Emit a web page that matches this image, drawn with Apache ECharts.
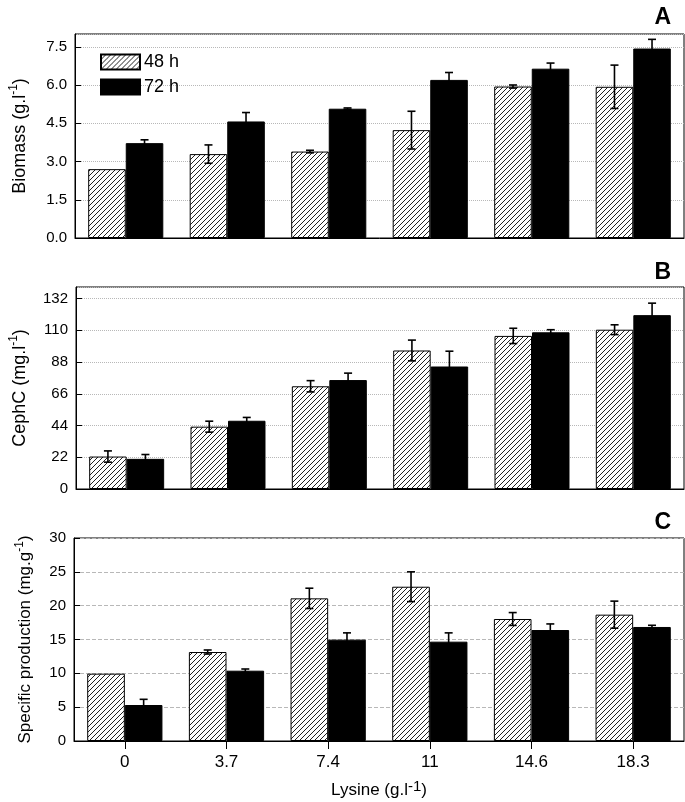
<!DOCTYPE html>
<html>
<head>
<meta charset="utf-8">
<script src="https://cdn.jsdelivr.net/npm/echarts@6/dist/echarts.min.js"></script>
<style>
html,body{margin:0;padding:0;background:#fff;}
#chart{width:685px;height:802px;}
</style>
</head>
<body>
<div id="chart"></div>
<script>
// ---- data ----
const categories = ['0', '3.7', '7.4', '11', '14.6', '18.3'];
const seriesNames = ['48 h', '72 h'];

const biomass48 = [2.70, 3.29, 3.39, 4.23, 5.94, 5.93];
const biomass48Err = [0, 0.36, 0.05, 0.74, 0.06, 0.85];
const biomass72 = [3.72, 4.57, 5.07, 6.20, 6.64, 7.43];
const biomass72Err = [0.13, 0.35, 0.03, 0.29, 0.22, 0.36];

const cephc48 = [22.5, 43.2, 71.2, 96.0, 106.1, 110.4];
const cephc48Err = [3.9, 3.8, 3.9, 7.2, 5.3, 3.4];
const cephc72 = [20.9, 47.3, 75.5, 84.9, 108.6, 120.5];
const cephc72Err = [3.0, 2.3, 4.8, 10.6, 1.8, 8.3];

const spec48 = [9.95, 13.15, 21.08, 22.8, 18.03, 18.67];
const spec48Err = [0, 0.3, 1.5, 2.2, 0.95, 2.0];
const spec72 = [5.32, 10.39, 14.98, 14.68, 16.4, 16.85];
const spec72Err = [0.84, 0.25, 1.0, 1.3, 0.9, 0.25];

const yTicksA = [0, 1.5, 3.0, 4.5, 6.0, 7.5];
const yTicksB = [0, 22, 44, 66, 88, 110, 132];
const yTicksC = [0, 5, 10, 15, 20, 25, 30];

// ---- styling ----
const FONT = '"Liberation Sans", Arial, Helvetica, sans-serif';

function hatchCanvas() {
  const s = 5;
  const c = document.createElement('canvas');
  c.width = s; c.height = s;
  const ctx = c.getContext('2d');
  ctx.fillStyle = '#fff';
  ctx.fillRect(0, 0, s, s);
  ctx.strokeStyle = '#222';
  ctx.lineWidth = 1;
  ctx.beginPath();
  ctx.moveTo(-1, s + 1); ctx.lineTo(s + 1, -1);
  ctx.moveTo(-1, 1); ctx.lineTo(1, -1);
  ctx.moveTo(s - 1, s + 1); ctx.lineTo(s + 1, s - 1);
  ctx.stroke();
  return c;
}
const hatch = { image: hatchCanvas(), repeat: 'repeat' };

const BAR_FRAC = 0.37;
const GAP_PCT = '26%';

const grids = [
  { left: 74, right: 1, top: 34, height: 204 },
  { left: 74, right: 1, top: 287, height: 202 },
  { left: 74, right: 1, top: 538, height: 203 }
];

function richName(main, tail, size, supSize) {
  return {
    text: '{n|' + main + '}{s|-1}{n|' + tail + '}',
    style: {
      fontFamily: FONT,
      color: '#000',
      rich: {
        n: { fontSize: size, fontFamily: FONT, color: '#000', lineHeight: size + 6 },
        s: { fontSize: supSize, fontFamily: FONT, color: '#000', verticalAlign: 'top', lineHeight: supSize + 2 }
      }
    }
  };
}

const nameA = richName('Biomass (g.l', ')', 18, 12);
const nameB = richName('CephC (mg.l', ')', 18, 12);
const nameC = richName('Specific production (mg.g', ')', 17, 12);
const nameX = richName('Lysine (g.l', ')', 17, 15);

function yAxis(idx, ticks, max, name, gap, fmt, splitType) {
  const interval = ticks[1] - ticks[0];
  return {
    type: 'value',
    gridIndex: idx,
    min: ticks[0],
    max: max,
    interval: interval,
    name: name.text,
    nameLocation: 'middle',
    nameGap: gap,
    nameRotate: 90,
    nameTextStyle: name.style,
    axisLine: { show: true, lineStyle: { color: '#000', width: 1 } },
    axisTick: { show: true, inside: true, length: 6, lineStyle: { color: '#000' } },
    axisLabel: {
      color: '#000', fontSize: 15, fontFamily: FONT, margin: 8,
      showMaxLabel: max === ticks[ticks.length - 1],
      formatter: fmt
    },
    splitLine: { show: true, lineStyle: { color: '#b8b8b8', type: splitType, width: 1 } }
  };
}

function xAxis(idx, showLabels) {
  return {
    type: 'category',
    gridIndex: idx,
    data: categories,
    axisLine: { show: true, lineStyle: { color: '#000', width: 1 } },
    axisTick: { show: showLabels, alignWithLabel: true, length: 8, lineStyle: { color: '#000' } },
    axisLabel: { show: showLabels, color: '#000', fontSize: 17, fontFamily: FONT, margin: 13 },
    splitLine: { show: false },
    name: showLabels ? nameX.text : '',
    nameLocation: 'middle',
    nameGap: 38,
    nameTextStyle: nameX.style
  };
}

function barSeries(idx, name, values, color) {
  return {
    type: 'bar',
    name: name,
    xAxisIndex: idx,
    yAxisIndex: idx,
    data: values,
    barGap: '0%',
    barCategoryGap: GAP_PCT,
    itemStyle: { color: color, borderColor: '#000', borderWidth: 1 },
    emphasis: { disabled: true },
    z: 2
  };
}

function errSeries(idx, values, errs, side) {
  const data = values.map((v, i) => [i, v, errs[i]]);
  return {
    type: 'custom',
    xAxisIndex: idx,
    yAxisIndex: idx,
    z: 5,
    silent: true,
    data: data,
    renderItem: function (params, api) {
      const ci = api.value(0), v = api.value(1), e = api.value(2);
      if (!e) return null;
      const band = api.size([1, 0])[0];
      const off = side * band * BAR_FRAC / 2;
      const hi = api.coord([ci, v + e]);
      const lo = api.coord([ci, v - e]);
      const x = hi[0] + off;
      const cap = 4;
      const st = { stroke: '#000', lineWidth: 1.6 };
      return {
        type: 'group',
        children: [
          { type: 'line', shape: { x1: x, y1: hi[1], x2: x, y2: lo[1] }, style: st },
          { type: 'line', shape: { x1: x - cap, y1: hi[1], x2: x + cap, y2: hi[1] }, style: st },
          { type: 'line', shape: { x1: x - cap, y1: lo[1], x2: x + cap, y2: lo[1] }, style: st }
        ]
      };
    }
  };
}

const option = {
  animation: false,
  backgroundColor: '#fff',
  textStyle: { fontFamily: FONT },
  grid: grids.map(g => Object.assign({ show: true, borderColor: '#000', borderWidth: 1, backgroundColor: 'transparent' }, g)),
  legend: {
    data: seriesNames.map(n => ({ name: n, icon: 'rect' })),
    orient: 'vertical',
    left: 100,
    top: 53,
    padding: 0,
    itemWidth: 39,
    itemHeight: 15,
    itemGap: 7,
    selectedMode: false,
    textStyle: { fontSize: 18, fontFamily: FONT, color: '#000', padding: [0, 0, 0, -1] }
  },
  xAxis: [xAxis(0, false), xAxis(1, false), xAxis(2, true)],
  yAxis: [
    yAxis(0, yTicksA, 8, nameA, 43, v => v.toFixed(1), 'dotted'),
    yAxis(1, yTicksB, 140, nameB, 44, v => String(v), 'dotted'),
    yAxis(2, yTicksC, 30, nameC, 37, v => String(v), 'dashed')
  ],
  series: [
    barSeries(0, seriesNames[0], biomass48, hatch),
    barSeries(0, seriesNames[1], biomass72, '#000'),
    errSeries(0, biomass48, biomass48Err, -1),
    errSeries(0, biomass72, biomass72Err, 1),
    barSeries(1, seriesNames[0], cephc48, hatch),
    barSeries(1, seriesNames[1], cephc72, '#000'),
    errSeries(1, cephc48, cephc48Err, -1),
    errSeries(1, cephc72, cephc72Err, 1),
    barSeries(2, seriesNames[0], spec48, hatch),
    barSeries(2, seriesNames[1], spec72, '#000'),
    errSeries(2, spec48, spec48Err, -1),
    errSeries(2, spec72, spec72Err, 1)
  ],
  graphic: [
    { type: 'text', right: 14, top: 6, style: { text: 'A', font: 'bold 23px ' + FONT, fill: '#000' } },
    { type: 'text', right: 14, top: 261, style: { text: 'B', font: 'bold 23px ' + FONT, fill: '#000' } },
    { type: 'text', right: 14, top: 511, style: { text: 'C', font: 'bold 23px ' + FONT, fill: '#000' } }
  ]
};

const chart = echarts.init(document.getElementById('chart'), null, { renderer: 'canvas' });
chart.setOption(option);
</script>
</body>
</html>
